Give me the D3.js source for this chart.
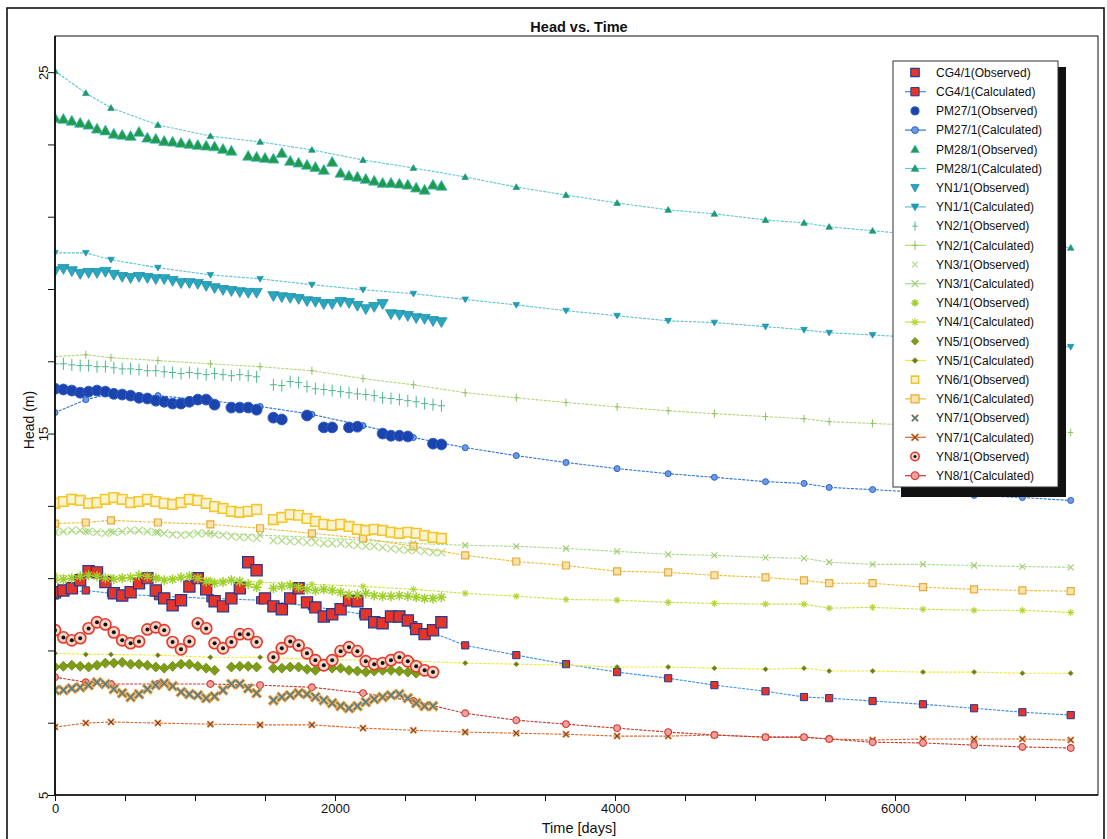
<!DOCTYPE html>
<html>
<head>
<meta charset="utf-8">
<script src="https://cdn.jsdelivr.net/npm/d3@7"></script>
<style>
  body { margin: 0; background: #fff; }
  svg { display: block; font-family: "Liberation Sans", Arial, sans-serif; }
</style>
</head>
<body>
<div id="chart"></div>
<script>
// observed heads, sampled every 60 days (null = no reading)
const obsDays = [0,60,120,180,240,300,360,420,480,540,600,660,720,780,840,900,960,1020,1080,1140,1200,1260,1320,1380,1440,1500,1560,1620,1680,1740,1800,1860,1920,1980,2040,2100,2160,2220,2280,2340,2400,2460,2520,2580,2640,2700,2760];

const cg4Obs = [10.61,10.66,10.72,10.94,11.19,11.16,10.89,10.58,10.52,10.61,10.86,11.00,10.66,10.44,10.25,10.39,10.77,11.00,10.69,10.36,10.22,10.44,10.72,11.44,11.22,10.44,10.22,10.14,10.44,10.72,10.33,10.19,9.94,10.00,10.14,10.39,10.36,10.00,9.78,9.75,9.94,9.94,9.83,9.59,9.45,9.56,9.78];
const pm27Obs = [16.24,16.22,16.19,16.13,16.16,16.19,16.16,16.10,16.08,16.05,15.99,15.97,15.91,15.88,15.83,15.83,15.88,15.94,15.94,15.80,null,15.72,15.72,15.72,15.66,null,15.44,15.39,null,null,15.50,null,15.17,15.17,null,15.17,15.19,null,null,15.00,14.94,14.94,14.92,null,null,14.72,14.70];
const pm28Obs = [23.73,23.70,23.65,23.59,23.54,23.43,23.38,23.29,23.26,23.23,23.34,23.18,23.15,23.09,23.07,23.04,23.01,22.98,22.96,22.94,22.87,22.82,null,22.68,22.65,22.62,22.60,22.76,22.54,22.49,22.43,22.37,22.29,22.51,22.21,22.13,22.10,22.04,21.99,21.93,21.93,21.91,21.88,21.80,21.74,21.88,21.85];
const yn1Obs = [19.50,19.56,19.50,19.42,19.45,19.45,19.48,19.40,19.34,19.31,19.34,19.31,19.28,19.28,19.23,19.17,19.17,19.15,19.09,19.03,18.98,18.95,18.92,18.90,18.90,null,18.81,18.78,18.76,18.73,18.67,18.65,18.59,18.59,18.65,18.62,18.54,18.45,18.51,18.59,18.31,18.29,18.26,18.20,18.18,18.12,18.09];
const yn2Obs = [16.93,16.93,16.90,16.88,16.88,16.85,16.85,16.82,16.79,16.79,16.77,16.74,16.74,16.71,16.69,16.66,16.69,16.66,16.63,16.66,16.63,16.60,16.63,16.60,16.57,null,16.35,16.33,16.44,16.41,16.30,16.24,16.22,16.19,16.16,16.13,16.10,16.08,16.05,15.99,15.97,15.94,15.91,15.88,15.83,15.80,15.77];
const yn3Obs = [12.27,12.29,12.32,12.32,12.29,12.27,12.24,12.27,12.29,12.32,12.32,12.29,12.27,12.24,12.21,12.19,12.21,12.24,12.24,12.21,12.19,12.16,12.13,12.13,12.10,null,12.04,12.04,12.02,12.02,11.99,11.99,11.96,11.96,11.96,11.93,11.91,11.88,11.88,11.85,11.82,11.79,11.77,11.77,11.74,11.71,11.71];
const yn4Obs = [10.94,10.97,11.00,11.05,11.08,11.05,11.00,10.97,11.00,11.02,11.08,11.05,11.00,10.94,10.97,11.02,11.05,11.00,10.91,10.86,10.89,10.94,10.91,10.83,10.75,null,10.72,10.77,10.80,10.75,10.69,10.66,10.69,10.66,10.61,10.55,10.55,10.58,10.52,10.50,10.50,10.52,10.50,10.47,10.44,10.44,10.47];
const yn5Obs = [8.54,8.56,8.59,8.56,8.54,8.59,8.65,8.65,8.67,8.62,8.62,8.59,8.54,8.51,8.56,8.62,8.62,8.56,8.51,8.45,null,8.54,8.56,8.56,8.54,null,8.51,8.51,8.54,8.54,8.48,8.45,null,8.51,8.51,8.45,8.43,8.40,8.43,8.45,8.45,8.43,8.40,8.37,null,null,null];
const yn6Obs = [13.07,13.12,13.18,13.15,13.07,13.09,13.18,13.23,13.18,13.09,13.12,13.18,13.12,13.07,13.04,13.09,13.18,13.15,13.07,12.98,12.93,12.85,12.82,12.85,12.90,null,12.62,12.68,12.76,12.74,12.65,12.57,12.49,12.46,12.49,12.43,12.35,12.32,12.35,12.32,12.27,12.24,12.27,12.24,12.18,12.13,12.10];
const yn7Obs = [7.90,7.90,7.95,7.98,8.04,8.12,8.07,7.93,7.82,7.71,7.79,7.93,8.04,8.09,8.01,7.85,7.79,7.76,7.68,7.73,7.90,8.07,8.07,7.95,7.82,null,7.62,7.71,7.76,7.82,7.79,7.71,7.62,7.54,7.46,7.40,7.46,7.57,7.65,7.71,7.76,7.79,7.68,7.54,7.46,7.46,null];
const yn8Obs = [9.56,9.36,9.28,9.34,9.61,9.78,9.72,9.50,9.28,9.20,9.25,9.58,9.64,9.56,9.23,9.03,9.25,9.75,9.61,9.20,9.06,9.23,9.45,9.45,9.23,null,8.81,9.06,9.25,9.14,8.92,8.73,8.59,8.73,8.98,9.09,8.98,8.70,8.62,8.65,8.73,8.81,8.70,8.56,8.45,8.40,null];

// calculated heads at the model output times (null = hidden under the legend)
const calcDays = [0,220,400,735,1110,1465,1835,2200,2560,2930,3295,3650,4015,4380,4710,5075,5350,5530,5840,6200,6565,6910,7255];

const cg4Calc = [10.52,10.66,10.58,10.50,10.44,10.39,10.22,10.00,9.70,9.14,8.87,8.62,8.40,8.23,8.04,7.87,7.71,7.68,7.60,7.51,7.40,7.29,7.21];
const pm27Calc = [15.58,15.94,16.10,16.05,15.91,15.75,15.53,15.22,14.89,14.61,14.39,14.20,14.03,13.89,13.79,13.67,13.62,13.51,13.45,13.37,13.29,13.23,13.15];
const pm28Calc = [25.03,24.42,24.01,23.54,23.23,23.07,22.85,22.57,22.35,22.10,21.82,21.60,21.38,21.19,21.08,20.91,20.83,20.72,20.61,null,null,null,20.14];
const yn1Calc = [20.00,20.00,19.81,19.59,19.39,19.28,19.12,18.98,18.87,18.71,18.56,18.40,18.26,18.12,18.07,17.96,17.87,17.79,17.73,null,null,null,17.40];
const yn2Calc = [17.13,17.18,17.10,17.02,16.93,16.85,16.74,16.52,16.35,16.13,15.99,15.86,15.74,15.63,15.55,15.47,15.41,15.33,15.28,null,null,null,15.03];
const yn3Calc = [12.27,12.29,12.29,12.27,12.24,12.19,12.13,12.05,11.96,11.91,11.88,11.82,11.74,11.66,11.63,11.57,11.55,11.44,11.38,11.38,11.35,11.32,11.30];
const yn4Calc = [11.08,11.05,11.02,11.00,10.94,10.89,10.83,10.77,10.69,10.58,10.50,10.41,10.39,10.33,10.30,10.28,10.28,10.17,10.19,10.14,10.11,10.11,10.05];
const yn5Calc = [8.92,8.89,8.89,8.87,8.81,8.81,8.76,8.73,8.70,8.65,8.62,8.59,8.54,8.54,8.51,8.48,8.51,8.43,8.43,8.40,8.40,8.37,8.37];
const yn6Calc = [12.51,12.54,12.60,12.54,12.49,12.38,12.24,12.10,11.88,11.63,11.46,11.35,11.19,11.16,11.08,11.02,10.94,10.86,10.86,10.75,10.69,10.66,10.64];
const yn7Calc = [6.88,6.99,7.02,6.99,6.96,6.94,6.94,6.85,6.79,6.74,6.71,6.68,6.63,6.63,6.66,6.60,6.60,6.55,6.52,6.55,6.55,6.55,6.52];
const yn8Calc = [8.26,8.12,8.07,8.07,8.07,8.04,7.98,7.82,7.60,7.26,7.07,6.96,6.85,6.74,6.66,6.60,6.60,6.55,6.46,6.44,6.38,6.33,6.30];

// axis ticks
const xTickValues = [0,500,1000,1500,2000,2500,3000,3500,4000,4500,5000,5500,6000,6500,7000];
const xTickLabels = [0,2000,4000,6000];
const yTickValues = [5,7,9,11,13,15,17,19,21,23,25];
const yTickLabels = [5,15,25];

const wells = [
  { name: "CG4/1",  obs: cg4Obs,  calc: cg4Calc },
  { name: "PM27/1", obs: pm27Obs, calc: pm27Calc },
  { name: "PM28/1", obs: pm28Obs, calc: pm28Calc },
  { name: "YN1/1",  obs: yn1Obs,  calc: yn1Calc },
  { name: "YN2/1",  obs: yn2Obs,  calc: yn2Calc },
  { name: "YN3/1",  obs: yn3Obs,  calc: yn3Calc },
  { name: "YN4/1",  obs: yn4Obs,  calc: yn4Calc },
  { name: "YN5/1",  obs: yn5Obs,  calc: yn5Calc },
  { name: "YN6/1",  obs: yn6Obs,  calc: yn6Calc },
  { name: "YN7/1",  obs: yn7Obs,  calc: yn7Calc },
  { name: "YN8/1",  obs: yn8Obs,  calc: yn8Calc }
];

// marker layers + line colour per well
const looks = {
  "CG4/1":  { line: "#3b8fe0",
    obs:  [{ shape: "square", h: 5.6, fill: "#e5352b", stroke: "#233a90", sw: 1.2 }],
    calc: [{ shape: "square", h: 3.6, fill: "#e5352b", stroke: "#233a90", sw: 1 }] },
  "PM27/1": { line: "#2f74d0",
    obs:  [{ shape: "circle", h: 5.4, fill: "#1c44ae", stroke: "#2d5cc8", sw: 1 }],
    calc: [{ shape: "circle", h: 3, fill: "#6b9be6", stroke: "#2a62c8", sw: 1 }] },
  "PM28/1": { line: "#5cc9d9",
    obs:  [{ shape: "triUp", h: 5.6, fill: "#229a48", stroke: "#3fb9c9", sw: 0.8 }],
    calc: [{ shape: "triUp", h: 3.3, fill: "#1d9b78", stroke: "#149070", sw: 0.6 }] },
  "YN1/1":  { line: "#5cc2d6",
    obs:  [{ shape: "triDown", h: 5.6, fill: "#2aa6be", stroke: "#1f8fa8", sw: 0.8 }],
    calc: [{ shape: "triDown", h: 3.3, fill: "#1a9fb5", stroke: "#168aa0", sw: 0.6 }] },
  "YN2/1":  { line: "#b6d67e",
    obs:  [{ shape: "plus", h: 6, stroke: "#4db98a", sw: 1 }],
    calc: [{ shape: "plus", h: 4, stroke: "#90c060", sw: 1 }] },
  "YN3/1":  { line: "#a9d98e",
    obs:  [{ shape: "x", h: 3.8, stroke: "#b0da84", sw: 1.2 }],
    calc: [{ shape: "x", h: 3, stroke: "#a0cc70", sw: 1.1 }] },
  "YN4/1":  { line: "#c9e046",
    obs:  [{ shape: "star", h: 5, stroke: "#9fcf2a", sw: 1.5 }],
    calc: [{ shape: "star", h: 3.5, stroke: "#b4d638", sw: 1.1 }] },
  "YN5/1":  { line: "#f2e838",
    obs:  [{ shape: "diamond", h: 5, fill: "#7f9c18", stroke: "#6a8a10", sw: 0.8 }],
    calc: [{ shape: "diamond", h: 2.5, fill: "#6e7e10", stroke: "#6e7e10", sw: 0.5 }] },
  "YN6/1":  { line: "#ecbc3a",
    obs:  [{ shape: "square", h: 4.8, fill: "#fbf3cf", stroke: "#f2c72c", sw: 1.6 }],
    calc: [{ shape: "square", h: 3.5, fill: "#f9e3a8", stroke: "#e8a93a", sw: 1.2 }] },
  "YN7/1":  { line: "#d9682e",
    obs:  [{ shape: "x", h: 4.4, stroke: "#e99a35", sw: 3.4 },
           { shape: "x", h: 3.8, stroke: "#3d7fa0", sw: 1.3 }],
    calc: [{ shape: "x", h: 3, stroke: "#e0883a", sw: 2.2 },
           { shape: "x", h: 2.6, stroke: "#6a3a30", sw: 1 }] },
  "YN8/1":  { line: "#c0392b",
    obs:  [{ shape: "circle", h: 5.6, fill: "#f7d6cc", stroke: "#e23b2b", sw: 1.6 },
           { shape: "circle", h: 2, fill: "#111", stroke: "none", sw: 0 }],
    calc: [{ shape: "circle", h: 3.4, fill: "#f4a09a", stroke: "#d23a3a", sw: 1.1 }] }
};

function shapePath(shape, h) {
  switch (shape) {
    case "square":  return `M${-h},${-h}H${h}V${h}H${-h}Z`;
    case "circle":  return d3.symbol(d3.symbolCircle, Math.PI * h * h)();
    case "triUp":   return `M0,${-h}L${h},${h * 0.75}L${-h},${h * 0.75}Z`;
    case "triDown": return `M0,${h}L${h},${-h * 0.75}L${-h},${-h * 0.75}Z`;
    case "diamond": return `M0,${-h}L${h},0L0,${h}L${-h},0Z`;
    case "plus":    return `M${-h * 0.6},0H${h * 0.6}M0,${-h}V${h}`;
    case "x":       return `M${-h},${-h}L${h},${h}M${-h},${h}L${h},${-h}`;
    case "star": {
      const k = h * 0.7;
      return `M${-h},0H${h}M0,${-h}V${h}M${-k},${-k}L${k},${k}M${-k},${k}L${k},${-k}`;
    }
  }
}

const W = 1107, H = 839;
const plot = { left: 55, right: 1098, top: 36, bottom: 795 };

const svg = d3.select("#chart").append("svg")
  .attr("width", W)
  .attr("height", H);

// outer frame of the scanned figure
svg.append("rect")
  .attr("x", 7).attr("y", 8)
  .attr("width", 1097).attr("height", 845)
  .attr("fill", "none").attr("stroke", "#111").attr("stroke-width", 1.6);

const x = d3.scaleLinear().domain([0, 7450]).range([plot.left, plot.right]);
const y = d3.scaleLinear().domain([5, 26]).range([plot.bottom, plot.top]);

svg.append("defs").append("clipPath")
  .attr("id", "plot-clip")
  .append("rect")
  .attr("x", plot.left).attr("y", plot.top)
  .attr("width", plot.right - plot.left).attr("height", plot.bottom - plot.top);

const area = svg.append("g").attr("clip-path", "url(#plot-clip)");

const toPoints = (days, vals) => days.map((t, i) => [t, vals[i]]).filter(d => d[1] != null);

const line = d3.line()
  .x(d => x(d[0]))
  .y(d => y(d[1]));

function drawMarkers(g, points, layers) {
  layers.forEach(l => {
    g.append("g").selectAll("path")
      .data(points)
      .join("path")
      .attr("transform", d => `translate(${x(d[0])},${y(d[1])})`)
      .attr("d", shapePath(l.shape, l.h))
      .attr("fill", l.fill || "none")
      .attr("stroke", l.stroke || "none")
      .attr("stroke-width", l.sw || 1);
  });
}

// calculated lines (thin, dotted look of the original)
wells.forEach(w => {
  area.append("path")
    .datum(toPoints(calcDays, w.calc))
    .attr("d", line)
    .attr("fill", "none")
    .attr("stroke", looks[w.name].line)
    .attr("stroke-width", 1.1)
    .attr("stroke-dasharray", "3,1.2");
});
// calculated markers
wells.forEach(w => drawMarkers(area, toPoints(calcDays, w.calc), looks[w.name].calc));
// observed markers
wells.forEach(w => drawMarkers(area, toPoints(obsDays, w.obs), looks[w.name].obs));

// axes
const xAxis = svg.append("g")
  .attr("transform", `translate(0,${plot.bottom})`)
  .call(d3.axisBottom(x).tickValues(xTickValues).tickSize(6)
    .tickFormat(d => xTickLabels.includes(d) ? d : ""));
xAxis.select(".domain").remove();
xAxis.selectAll("line").attr("stroke", "#111");
xAxis.selectAll("text").attr("font-size", "13px").attr("fill", "#111")
  .attr("font-family", "Liberation Sans, Arial, sans-serif");

const yAxis = svg.append("g")
  .attr("transform", `translate(${plot.left},0)`)
  .call(d3.axisLeft(y).tickValues(yTickValues).tickSize(7)
    .tickFormat(d => yTickLabels.includes(d) ? d : ""));
yAxis.select(".domain").remove();
yAxis.selectAll("line").attr("stroke", "#111");
yAxis.selectAll("text")
  .attr("font-size", "13px").attr("fill", "#111")
  .attr("font-family", "Liberation Sans, Arial, sans-serif")
  .attr("transform", "rotate(-90)")
  .attr("x", 0).attr("y", -7).attr("dy", 0)
  .attr("text-anchor", "middle");

// plot frame
svg.append("rect")
  .attr("x", plot.left).attr("y", plot.top)
  .attr("width", plot.right - plot.left).attr("height", plot.bottom - plot.top)
  .attr("fill", "none").attr("stroke", "#111").attr("stroke-width", 1);
svg.append("line")
  .attr("x1", plot.left).attr("x2", plot.left)
  .attr("y1", plot.top).attr("y2", plot.bottom)
  .attr("stroke", "#111").attr("stroke-width", 1.8);
svg.append("line")
  .attr("x1", plot.left).attr("x2", plot.right)
  .attr("y1", plot.bottom).attr("y2", plot.bottom)
  .attr("stroke", "#111").attr("stroke-width", 1.6);

// titles
svg.append("text")
  .attr("x", 579).attr("y", 32)
  .attr("text-anchor", "middle")
  .attr("font-size", "14.5px").attr("font-weight", "bold")
  .attr("fill", "#111")
  .text("Head vs. Time");

svg.append("text")
  .attr("x", 579).attr("y", 833)
  .attr("text-anchor", "middle")
  .attr("font-size", "14.5px")
  .attr("fill", "#111")
  .text("Time [days]");

svg.append("text")
  .attr("transform", "translate(34,420) rotate(-90)")
  .attr("text-anchor", "middle")
  .attr("font-size", "14px")
  .attr("fill", "#111")
  .text("Head (m)");

// legend
const legend = svg.append("g");
const lg = { x: 893, y: 61, w: 165, h: 426 };
legend.append("rect")
  .attr("x", lg.x + 8).attr("y", lg.y + 6)
  .attr("width", lg.w).attr("height", lg.h + 4)
  .attr("fill", "#111");
legend.append("rect")
  .attr("x", lg.x).attr("y", lg.y)
  .attr("width", lg.w).attr("height", lg.h)
  .attr("fill", "#fff").attr("stroke", "#333").attr("stroke-width", 1);

const entries = [];
wells.forEach(w => {
  entries.push({ label: `${w.name}(Observed)`, look: looks[w.name].obs, line: null });
  entries.push({ label: `${w.name}(Calculated)`, look: looks[w.name].calc, line: looks[w.name].line });
});

entries.forEach((e, i) => {
  const cy = 72.5 + i * 19.2;
  const row = legend.append("g").attr("transform", `translate(915,${cy})`);
  if (e.line) {
    row.append("line")
      .attr("x1", -10).attr("x2", 11)
      .attr("stroke", e.line).attr("stroke-width", 1.2);
  }
  const scale = e.line ? 1.15 : 0.75;
  e.look.forEach(l => {
    row.append("path")
      .attr("d", shapePath(l.shape, l.h * scale))
      .attr("fill", l.fill || "none")
      .attr("stroke", l.stroke || "none")
      .attr("stroke-width", Math.min(l.sw || 1, 2));
  });
  legend.append("text")
    .attr("x", 936).attr("y", cy)
    .attr("dy", "0.35em")
    .attr("font-size", "12px")
    .attr("fill", "#111")
    .text(e.label);
});
</script>
</body>
</html>
